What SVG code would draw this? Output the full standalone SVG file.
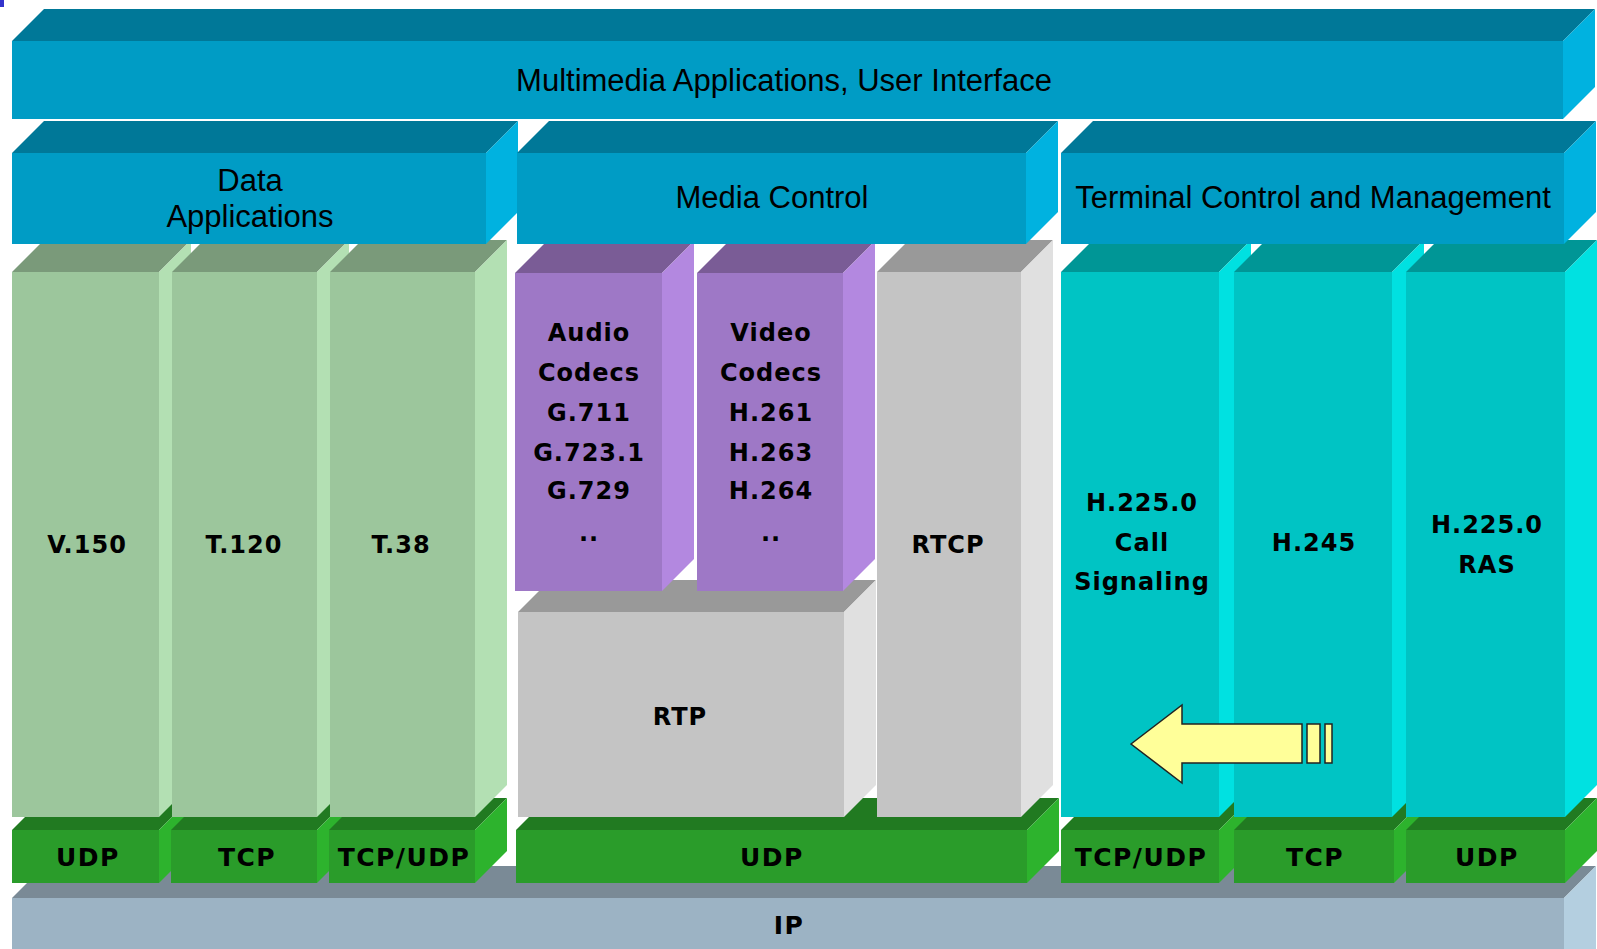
<svg xmlns="http://www.w3.org/2000/svg" width="1597" height="949" viewBox="0 0 1597 949">
<style>
.bt{fill:#007898}.bf{fill:#009cc5}.bs{fill:#00b2e0}
.gt{fill:#7a9a7a}.gf{fill:#9cc69c}.gs{fill:#b3e0b3}
.pt{fill:#7a5c96}.pf{fill:#9e78c6}.ps{fill:#b388e0}
.at{fill:#999999}.af{fill:#c4c4c4}.as{fill:#e0e0e0}
.ct{fill:#009696}.cf{fill:#00c4c4}.cs{fill:#00e1e1}
.dt{fill:#217a21}.df{fill:#2a9c2a}.ds{fill:#2db32d}
.it{fill:#7a8a96}.if{fill:#9cb3c4}.is{fill:#b4cfe0}
.sans{font-family:"Liberation Sans",Arial,sans-serif;font-size:31px;fill:#000;text-anchor:middle}
.b{font-family:"DejaVu Sans",Verdana,sans-serif;font-weight:bold;font-size:24px;letter-spacing:1px;fill:#000;text-anchor:middle}
.bb{font-family:"DejaVu Sans",Verdana,sans-serif;font-weight:bold;font-size:25px;letter-spacing:1.5px;fill:#000;text-anchor:middle}
</style>
<rect width="1597" height="949" fill="#ffffff"/>
<rect x="0" y="0" width="4" height="7" fill="#3333cc"/>

<g id="ip">
<polygon class="it" points="12,898 44,866 1596,866 1564,898"/>
<polygon class="is" points="1564,898 1596,866 1596,949 1564,960"/>
<rect class="if" x="12" y="898" width="1552" height="60"/>
<text class="bb" x="789" y="934">IP</text>
</g>

<g id="udp-data">
<polygon class="dt" points="12,830 44,798 191,798 159,830"/>
<polygon class="ds" points="159,830 191,798 191,851 159,883"/>
<rect class="df" x="12" y="830" width="147" height="53"/>
<text class="bb" x="88" y="866">UDP</text>
</g>
<g id="tcp-data">
<polygon class="dt" points="171,830 203,798 349,798 317,830"/>
<polygon class="ds" points="317,830 349,798 349,851 317,883"/>
<rect class="df" x="171" y="830" width="146" height="53"/>
<text class="bb" x="247" y="866">TCP</text>
</g>
<g id="tcpudp-data">
<polygon class="dt" points="329,830 361,798 507,798 475,830"/>
<polygon class="ds" points="475,830 507,798 507,851 475,883"/>
<rect class="df" x="329" y="830" width="146" height="53"/>
<text class="bb" x="404" y="866">TCP/UDP</text>
</g>
<g id="udp-media">
<polygon class="dt" points="516,830 548,798 1059,798 1027,830"/>
<polygon class="ds" points="1027,830 1059,798 1059,851 1027,883"/>
<rect class="df" x="516" y="830" width="511" height="53"/>
<text class="bb" x="772" y="866">UDP</text>
</g>
<g id="tcpudp-term">
<polygon class="dt" points="1061,830 1093,798 1251,798 1219,830"/>
<polygon class="ds" points="1219,830 1251,798 1251,851 1219,883"/>
<rect class="df" x="1061" y="830" width="158" height="53"/>
<text class="bb" x="1141" y="866">TCP/UDP</text>
</g>
<g id="tcp-term">
<polygon class="dt" points="1234,830 1266,798 1426,798 1394,830"/>
<polygon class="ds" points="1394,830 1426,798 1426,851 1394,883"/>
<rect class="df" x="1234" y="830" width="160" height="53"/>
<text class="bb" x="1315" y="866">TCP</text>
</g>
<g id="udp-term">
<polygon class="dt" points="1406,830 1438,798 1597,798 1565,830"/>
<polygon class="ds" points="1565,830 1597,798 1597,851 1565,883"/>
<rect class="df" x="1406" y="830" width="159" height="53"/>
<text class="bb" x="1487" y="866">UDP</text>
</g>

<g id="v150">
<polygon class="gt" points="12,272 44,240 191,240 159,272"/>
<polygon class="gs" points="159,272 191,240 191,785 159,817"/>
<rect class="gf" x="12" y="272" width="147" height="545"/>
<text class="b" x="87" y="553">V.150</text>
</g>
<g id="t120">
<polygon class="gt" points="172,272 204,240 349,240 317,272"/>
<polygon class="gs" points="317,272 349,240 349,785 317,817"/>
<rect class="gf" x="172" y="272" width="145" height="545"/>
<text class="b" x="244" y="553">T.120</text>
</g>
<g id="t38">
<polygon class="gt" points="330,272 362,240 507,240 475,272"/>
<polygon class="gs" points="475,272 507,240 507,785 475,817"/>
<rect class="gf" x="330" y="272" width="145" height="545"/>
<text class="b" x="401" y="553">T.38</text>
</g>

<g id="rtp">
<polygon class="at" points="518,612 550,580 876,580 844,612"/>
<polygon class="as" points="844,612 876,580 876,785 844,817"/>
<rect class="af" x="518" y="612" width="326" height="205"/>
<text class="b" x="680" y="725">RTP</text>
</g>
<g id="audio">
<polygon class="pt" points="515,273 547,241 694,241 662,273"/>
<polygon class="ps" points="662,273 694,241 694,559 662,591"/>
<rect class="pf" x="515" y="273" width="147" height="318"/>
<text class="b" x="589" y="341">Audio</text>
<text class="b" x="589" y="381">Codecs</text>
<text class="b" x="589" y="421">G.711</text>
<text class="b" x="589" y="461">G.723.1</text>
<text class="b" x="589" y="499">G.729</text>
<text class="b" x="589" y="541">..</text>
</g>
<g id="video">
<polygon class="pt" points="697,273 729,241 875,241 843,273"/>
<polygon class="ps" points="843,273 875,241 875,559 843,591"/>
<rect class="pf" x="697" y="273" width="146" height="318"/>
<text class="b" x="771" y="341">Video</text>
<text class="b" x="771" y="381">Codecs</text>
<text class="b" x="771" y="421">H.261</text>
<text class="b" x="771" y="461">H.263</text>
<text class="b" x="771" y="499">H.264</text>
<text class="b" x="771" y="541">..</text>
</g>
<g id="rtcp">
<polygon class="at" points="877,272 909,240 1053,240 1021,272"/>
<polygon class="as" points="1021,272 1053,240 1053,785 1021,817"/>
<rect class="af" x="877" y="272" width="144" height="545"/>
<text class="b" x="948" y="553">RTCP</text>
</g>

<g id="h2250-call">
<polygon class="ct" points="1061,272 1093,240 1251,240 1219,272"/>
<polygon class="cs" points="1219,272 1251,240 1251,785 1219,817"/>
<rect class="cf" x="1061" y="272" width="158" height="545"/>
<text class="b" x="1142" y="511">H.225.0</text>
<text class="b" x="1142" y="551">Call</text>
<text class="b" x="1142" y="590">Signaling</text>
</g>
<g id="h245">
<polygon class="ct" points="1234,272 1266,240 1424,240 1392,272"/>
<polygon class="cs" points="1392,272 1424,240 1424,785 1392,817"/>
<rect class="cf" x="1234" y="272" width="158" height="545"/>
<text class="b" x="1314" y="551">H.245</text>
</g>
<g id="h2250-ras">
<polygon class="ct" points="1406,272 1438,240 1597,240 1565,272"/>
<polygon class="cs" points="1565,272 1597,240 1597,785 1565,817"/>
<rect class="cf" x="1406" y="272" width="159" height="545"/>
<text class="b" x="1487" y="533">H.225.0</text>
<text class="b" x="1487" y="573">RAS</text>
</g>

<g id="data-applications">
<polygon class="bt" points="12,153 44,121 518,121 486,153"/>
<polygon class="bs" points="486,153 518,121 518,212 486,244"/>
<rect class="bf" x="12" y="153" width="474" height="91"/>
<text class="sans" x="250" y="191">Data</text>
<text class="sans" x="250" y="227">Applications</text>
</g>
<g id="media-control">
<polygon class="bt" points="517,153 549,121 1058,121 1026,153"/>
<polygon class="bs" points="1026,153 1058,121 1058,212 1026,244"/>
<rect class="bf" x="517" y="153" width="509" height="91"/>
<text class="sans" x="772" y="208">Media Control</text>
</g>
<g id="terminal-control">
<polygon class="bt" points="1061,153 1093,121 1596,121 1564,153"/>
<polygon class="bs" points="1564,153 1596,121 1596,212 1564,244"/>
<rect class="bf" x="1061" y="153" width="503" height="91"/>
<text class="sans" x="1313" y="208">Terminal Control and Management</text>
</g>

<g id="multimedia-applications">
<polygon class="bt" points="12,41 44,9 1595,9 1563,41"/>
<polygon class="bs" points="1563,41 1595,9 1595,87 1563,119"/>
<rect class="bf" x="12" y="41" width="1551" height="78"/>
<text class="sans" x="784" y="91">Multimedia Applications, User Interface</text>
</g>

<g id="connectors">
<polygon points="1131,744 1182,705 1182,724 1302,724 1302,763 1182,763 1182,783" fill="#ffff99" stroke="#222222" stroke-width="1.5" stroke-linejoin="miter"/>
<rect x="1307" y="724" width="13" height="39" fill="#ffff99" stroke="#222222" stroke-width="1.5"/>
<rect x="1325" y="724" width="7" height="39" fill="#ffff99" stroke="#222222" stroke-width="1.5"/>
</g>
</svg>
